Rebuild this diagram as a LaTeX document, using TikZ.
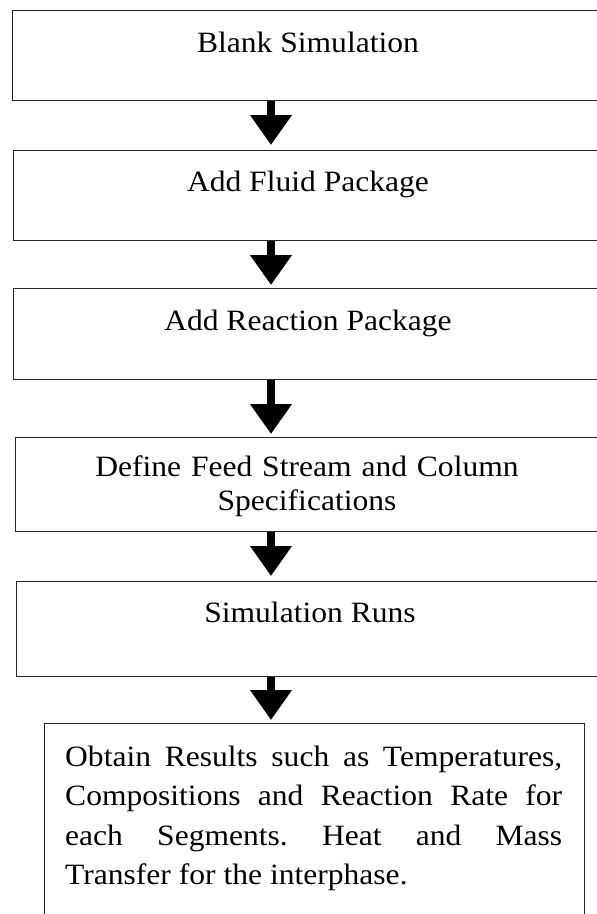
\documentclass[tikz,border=0pt]{standalone}
\usepackage{fontspec}
\setmainfont{Liberation Serif}[FakeStretch=1.07]
\usetikzlibrary{arrows.meta}
\begin{document}
\begin{tikzpicture}[x=1pt,y=1pt,
  stepbox/.style={draw=black!85,line width=1.1pt,rectangle,inner sep=0pt,anchor=north west},
  lbl/.style={inner sep=0pt,anchor=base,font=\fontsize{29.5}{34}\selectfont},
  arr/.style={line width=8pt,-{Triangle[width=40pt,length=30pt]}}]
\useasboundingbox (0,0) rectangle (597,-914);
\fill[white] (0,0) rectangle (597,-914);
\coordinate (ax) at (271,0);
% boxes
\node[stepbox,minimum width=592pt,minimum height=90pt] (b1) at (12,-10) {};
\node[stepbox,minimum width=592pt,minimum height=90pt] (b2) at (12.5,-150) {};
\node[stepbox,minimum width=592pt,minimum height=91pt] (b3) at (12.5,-288) {};
\node[stepbox,minimum width=590pt,minimum height=94pt] (b4) at (14.5,-437) {};
\node[stepbox,minimum width=588pt,minimum height=95pt] (b5) at (16,-581) {};
\node[stepbox,minimum width=540pt,minimum height=230pt] (b6) at (44,-723) {};
% texts
\node[lbl] (t1) at (308,-52) {Blank Simulation};
\node[lbl] (t2) at (308,-191) {Add Fluid Package};
\node[lbl] (t3) at (308,-330) {Add Reaction Package};
\node[lbl,text width=560pt,align=center] (t4) at (307,-476) {Define Feed Stream and Column\\Specifications};
\node[lbl] (t5) at (310,-622) {Simulation Runs};
\node[inner sep=0pt,anchor=base west,text width=497pt,align=justify,
      font=\fontsize{29.5}{39.5}\selectfont] (t6) at (65,-766)
  {\frenchspacing\tolerance=10000 Obtain Results such as Temperatures,\linebreak
   Compositions and Reaction Rate for\linebreak
   each Segments. Heat and Mass\linebreak
   Transfer for the interphase.};
% arrows
\draw[arr] (b1.south -| ax) -- ([yshift=5pt]b2.north -| ax);
\draw[arr] (b2.south -| ax) -- ([yshift=3pt]b3.north -| ax);
\draw[arr] (b3.south -| ax) -- ([yshift=3pt]b4.north -| ax);
\draw[arr] (b4.south -| ax) -- ([yshift=5pt]b5.north -| ax);
\draw[arr] (b5.south -| ax) -- ([yshift=3pt]b6.north -| ax);
\end{tikzpicture}
\end{document}
